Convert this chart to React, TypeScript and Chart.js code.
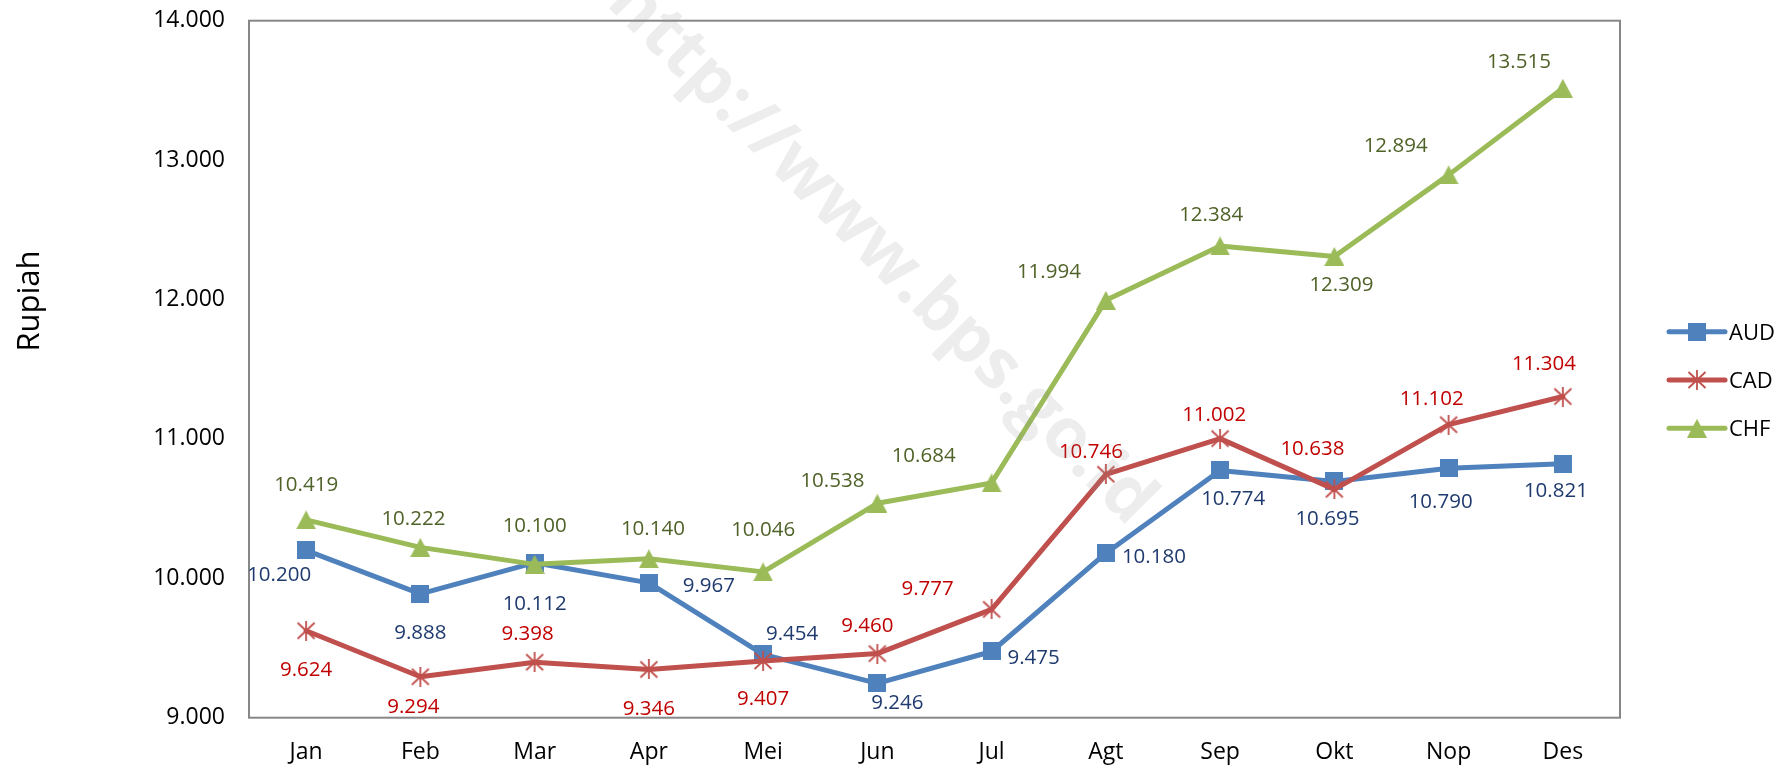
import { useEffect, useRef } from "react";
import { Chart, registerables } from "chart.js";

Chart.register(...registerables);

// ---- Data ----
const months = ["Jan", "Feb", "Mar", "Apr", "Mei", "Jun", "Jul", "Agt", "Sep", "Okt", "Nop", "Des"];
const audValues = [10200, 9888, 10112, 9967, 9454, 9246, 9475, 10180, 10774, 10695, 10790, 10821];
const cadValues = [9624, 9294, 9398, 9346, 9407, 9460, 9777, 10746, 11002, 10638, 11102, 11304];
const chfValues = [10419, 10222, 10100, 10140, 10046, 10538, 10684, 11994, 12384, 12309, 12894, 13515];
const yMin = 9000;
const yMax = 14000;
const yStep = 1000;
const yTitle = "Rupiah";
const watermark = "http://www.bps.go.id";

// ---- Data-label placement (offset of label centre from its point, px) ----
const audLabelOffsets = [
  [-27, 23], [0, 38], [0, 40], [60, 2], [29, -22], [20, 18],
  [42, 5], [48, 2], [13, 27], [-7, 36], [-8, 33], [-7, 26],
];
const cadLabelOffsets = [
  [0, 38], [-7, 29], [-7, -30], [0, 38], [0, 37], [-10, -29],
  [-64, -22], [-15, -24], [-6, -25], [-22, -42], [-17, -27], [-19, -34],
];
const chfLabelOffsets = [
  [0, -36], [-7, -30], [0, -40], [4, -31], [0, -43], [-45, -24],
  [-68, -28], [-57, -30], [-9, -32], [7, 27], [-53, -30], [-44, -28],
];

const FONT = "'Open Sans', 'DejaVu Sans', sans-serif";

const fmt = (v: number) => String(Math.round(v)).replace(/\B(?=(\d{3})+(?!\d))/g, ".");

function makeMarker(kind: string, color: string): HTMLCanvasElement {
  const c = document.createElement("canvas");
  const ctx = c.getContext("2d")!;
  if (kind === "square") {
    c.width = 18;
    c.height = 18;
    ctx.fillStyle = color;
    ctx.fillRect(0, 0, 18, 18);
  } else if (kind === "triangle") {
    c.width = 20;
    c.height = 19;
    ctx.fillStyle = color;
    ctx.beginPath();
    ctx.moveTo(10, 0);
    ctx.lineTo(20, 19);
    ctx.lineTo(0, 19);
    ctx.closePath();
    ctx.fill();
  } else {
    c.width = 20;
    c.height = 20;
    ctx.strokeStyle = color;
    ctx.lineWidth = 1.8;
    ctx.beginPath();
    ctx.moveTo(1.5, 2);
    ctx.lineTo(18.5, 18);
    ctx.moveTo(18.5, 2);
    ctx.lineTo(1.5, 18);
    ctx.moveTo(10, 0);
    ctx.lineTo(10, 20);
    ctx.stroke();
  }
  return c;
}

export default function App() {
  const ref = useRef<HTMLCanvasElement>(null);

  useEffect(() => {
    const canvas = ref.current;
    if (!canvas) return;

    const series = [
      { label: "AUD", values: audValues, color: "#4F81BD", labelColor: "#1F3A6E", offsets: audLabelOffsets, marker: makeMarker("square", "#4F81BD"), order: 3 },
      { label: "CAD", values: cadValues, color: "#C0504D", labelColor: "#C00000", offsets: cadLabelOffsets, marker: makeMarker("star", "#C0504D"), order: 2 },
      { label: "CHF", values: chfValues, color: "#9BBB59", labelColor: "#4F6228", offsets: chfLabelOffsets, marker: makeMarker("triangle", "#9BBB59"), order: 1 },
    ];

    const borderPlugin = {
      id: "plotBorder",
      beforeDatasetsDraw(chart: any) {
        const { ctx, chartArea: a } = chart;
        ctx.save();
        ctx.strokeStyle = "#878787";
        ctx.lineWidth = 2;
        ctx.strokeRect(a.left, a.top, a.right - a.left, a.bottom - a.top);
        ctx.restore();
      },
    };

    const labelPlugin = {
      id: "dataLabels",
      afterDatasetsDraw(chart: any) {
        const ctx = chart.ctx;
        const size = 20.5;
        ctx.save();
        ctx.font = `${size}px ${FONT}`;
        ctx.textAlign = "center";
        ctx.textBaseline = "alphabetic";
        series.forEach((s, i) => {
          const meta = chart.getDatasetMeta(i);
          meta.data.forEach((pt: any, j: number) => {
            const [dx, dy] = s.offsets[j];
            ctx.fillStyle = s.labelColor;
            ctx.fillText(fmt(s.values[j]), pt.x + dx, pt.y + dy + 0.357 * size);
          });
        });
        ctx.restore();
      },
    };

    const legendPlugin = {
      id: "customLegend",
      afterDraw(chart: any) {
        const ctx = chart.ctx;
        const x0 = 1669;
        const x1 = 1725;
        const y0 = 331.7;
        const gap = 48.3;
        const size = 22;
        ctx.save();
        chart.data.datasets.forEach((ds: any, i: number) => {
          const y = y0 + i * gap;
          ctx.strokeStyle = ds.borderColor;
          ctx.lineWidth = 5;
          ctx.lineCap = "round";
          ctx.beginPath();
          ctx.moveTo(x0, y);
          ctx.lineTo(x1, y);
          ctx.stroke();
          const img = ds.pointStyle as HTMLCanvasElement;
          ctx.drawImage(img, (x0 + x1) / 2 - img.width / 2, y - img.height / 2);
          ctx.fillStyle = "#000";
          ctx.font = `${size}px ${FONT}`;
          ctx.textAlign = "left";
          ctx.textBaseline = "alphabetic";
          ctx.fillText(ds.label, x1 + 4, y + 0.357 * size);
        });
        ctx.restore();
      },
    };

    const titlePlugin = {
      id: "yTitle",
      afterDraw(chart: any) {
        const ctx = chart.ctx;
        ctx.save();
        ctx.translate(39, 301);
        ctx.rotate(-Math.PI / 2);
        ctx.font = `31px ${FONT}`;
        ctx.fillStyle = "#000";
        ctx.textAlign = "center";
        ctx.textBaseline = "alphabetic";
        ctx.fillText(yTitle, 0, 0);
        ctx.restore();
      },
    };

    const watermarkPlugin = {
      id: "watermark",
      afterDraw(chart: any) {
        const ctx = chart.ctx;
        ctx.save();
        ctx.translate(881, 252);
        ctx.rotate((45 * Math.PI) / 180);
        ctx.font = `bold 100px ${FONT}`;
        const w = ctx.measureText(watermark).width;
        const fs = (100 * 740) / w;
        ctx.font = `bold ${fs}px ${FONT}`;
        ctx.fillStyle = "rgba(140,140,140,0.16)";
        ctx.textAlign = "center";
        ctx.textBaseline = "middle";
        ctx.fillText(watermark, 0, 0);
        ctx.restore();
      },
    };

    const chart = new Chart(canvas, {
      type: "line",
      data: {
        labels: months,
        datasets: series.map((s) => ({
          label: s.label,
          data: s.values,
          borderColor: s.color,
          backgroundColor: s.color,
          borderWidth: 5,
          borderJoinStyle: "round",
          borderCapStyle: "round",
          pointStyle: s.marker,
          pointRadius: 9,
          pointHoverRadius: 9,
          tension: 0,
          fill: false,
          order: s.order,
        })),
      } as any,
      options: {
        responsive: false,
        animation: false,
        events: [],
        layout: { padding: { left: 0, top: 20.7, right: 171, bottom: 0 } },
        plugins: {
          legend: { display: false },
          tooltip: { enabled: false },
          title: { display: false },
        },
        scales: {
          x: {
            type: "category",
            offset: true,
            grid: { display: false, drawTicks: false },
            border: { display: false },
            ticks: {
              font: { family: FONT, size: 23 },
              color: "#000",
              padding: 21,
              maxRotation: 0,
              autoSkip: false,
            },
            afterFit: (s: any) => {
              s.height = 52.3;
              s.paddingLeft = 0;
              s.paddingRight = 0;
            },
          },
          y: {
            min: yMin,
            max: yMax,
            grid: { display: false, drawTicks: false },
            border: { display: false },
            ticks: {
              stepSize: yStep,
              font: { family: FONT, size: 23 },
              color: "#000",
              padding: 24,
              callback: (v: any) => fmt(Number(v)),
            },
            afterFit: (s: any) => {
              s.width = 249;
              s.paddingTop = 0;
              s.paddingBottom = 0;
            },
          },
        },
      } as any,
      plugins: [borderPlugin, labelPlugin, legendPlugin, titlePlugin, watermarkPlugin],
    });

    return () => chart.destroy();
  }, []);

  return (
    <div style={{ position: "absolute", left: 0, top: 0, width: 1791, height: 770, background: "#fff" }}>
      <canvas ref={ref} width={1791} height={770} style={{ display: "block", width: 1791, height: 770 }} />
    </div>
  );
}
